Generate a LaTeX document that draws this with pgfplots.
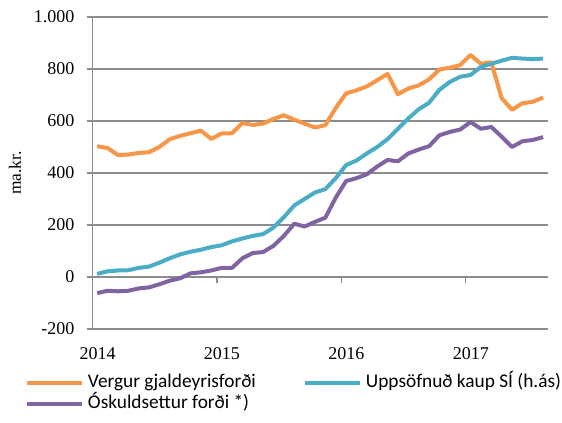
\documentclass[border=0pt]{standalone}
\usepackage{fontspec}
\setmainfont{Liberation Serif}
\newfontfamily\legfont{Carlito}
\usepackage{pgfplots}
\usepackage{pgfplotstable}
\pgfplotsset{compat=1.18}

\definecolor{cOrange}{RGB}{247,150,70}
\definecolor{cCyan}{RGB}{75,172,198}
\definecolor{cPurple}{RGB}{128,100,162}
\definecolor{cGrid}{RGB}{140,140,140}

% m = month index from Jan 2014; a = vergur, b = uppsofnud, c = oskuldsettur
\pgfplotstableread{
m  a    b    c
0  503  12   -62
1  496  22   -53
2  469  25   -55
3  471  26   -53
4  477  35   -44
5  480  40   -40
6  500  55   -28
7  530  72   -14
8  543  87   -5
9  553  97   14
10 563  105  18
11 531  115  25
12 552  122  35
13 553  137  35
14 592  148  72
15 585  158  92
16 590  165  96
17 608  190  120
18 622  230  158
19 605  275  205
20 590  300  194
21 575  325  212
22 584  338  228
23 650  380  305
24 706  430  369
25 718  448  380
26 733  475  395
27 757  500  425
28 781  530  450
29 703  570  445
30 725  610  475
31 737  645  490
32 760  670  503
33 798  720  545
34 805  750  558
35 815  770  567
36 854  777  596
37 820  808  570
38 826  820  577
39 688  832  540
40 643  843  500
41 668  840  522
42 674  838  527
43 690  840  538
}\data

\begin{document}
\begin{tikzpicture}
\useasboundingbox (-69.4pt,-70.5pt) rectangle (352.1pt,246.75pt);
\begin{axis}[
  at={(0,0)}, anchor=south west,
  scale only axis, width=341.6pt, height=234pt,
  xmin=-0.45, xmax=43.47, ymin=-200, ymax=1000,
  axis lines*=left,
  axis line style={cGrid, line width=0.9pt},
  ymajorgrids, grid style={cGrid, line width=0.9pt},
  ytick={-200,0,200,400,600,800,1000},
  ytick style={cGrid, line width=0.9pt},
  tick align=outside, major tick length=4.5pt,
  xtick={-0.45,11.55,23.55,35.55},
  xticklabels={2014,2015,2016,2017},
  xtick style={draw=none},
  xticklabel style={font=\fontsize{13.5}{14}\selectfont, xshift=3.75pt, yshift=-5.5pt},
  yticklabel style={font=\fontsize{13.5}{14}\selectfont, xshift=-5.5pt},
  /pgf/number format/1000 sep={.},
  /pgf/number format/assume math mode=true,
  ylabel={ma.kr.},
  ylabel style={font=\fontsize{13}{14}\selectfont, at={(axis description cs:-0.17,0.5)}, anchor=center},
  legend columns=2,
  legend style={at={(0,0)}, anchor=north west, xshift=-50.6pt, yshift=-32pt,
    draw=none, fill=none, inner sep=0pt,
    font=\legfont\fontsize{14.5}{16}\selectfont,
    nodes={inner xsep=0pt, inner ysep=1pt, text height=10.5pt, text depth=3.5pt, anchor=west},
    /tikz/column 1/.style={column sep=3pt},
    /tikz/column 2/.style={column sep=35.5pt},
    /tikz/column 3/.style={column sep=3pt}},
  legend image code/.code={\draw[#1] (0pt,0pt) -- (41pt,0pt);},
  every axis plot/.append style={line width=3pt, line join=round, no markers},
]
\addplot[cOrange] table[x=m, y=a]{\data};
\addlegendentry{Vergur gjaldeyrisforði}
\addplot[cCyan] table[x=m, y=b]{\data};
\addlegendentry{Uppsöfnuð kaup SÍ (h.ás)}
\addplot[cPurple] table[x=m, y=c]{\data};
\addlegendentry{Óskuldsettur forði *)}
\draw[cGrid, line width=0.9pt] (axis cs:11.55,0) -- ([yshift=-4.5pt]axis cs:11.55,0);
\draw[cGrid, line width=0.9pt] (axis cs:23.55,0) -- ([yshift=-4.5pt]axis cs:23.55,0);
\draw[cGrid, line width=0.9pt] (axis cs:35.55,0) -- ([yshift=-4.5pt]axis cs:35.55,0);
\end{axis}
\end{tikzpicture}
\end{document}
